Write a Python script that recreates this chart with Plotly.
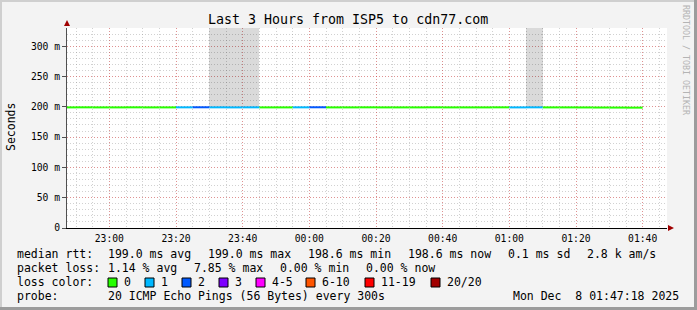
import plotly.graph_objects as go
import pandas as pd

# ---------------- data ----------------
bin_start = ["22:45", "22:50", "22:55", "23:00", "23:05", "23:10", "23:15",
             "23:20", "23:25", "23:30", "23:35", "23:40", "23:45", "23:50",
             "23:55", "00:00", "00:05", "00:10", "00:15", "00:20", "00:25",
             "00:30", "00:35", "00:40", "00:45", "00:50", "00:55", "01:00",
             "01:05", "01:10", "01:15", "01:20", "01:25", "01:30", "01:35"]
median_rtt_ms = [199.0, 199.1, 199.0, 199.0, 199.1, 199.0, 199.0,
                 199.1, 199.2, 199.1, 199.0, 199.1, 199.0, 199.0,
                 199.1, 199.2, 199.0, 199.0, 199.1, 199.0, 199.0,
                 199.0, 199.1, 199.0, 199.0, 199.0, 199.1, 199.0,
                 199.1, 199.0, 199.0, 198.9, 198.8, 198.7, 198.6]
loss_count = [0, 0, 0, 0, 0, 0, 0,
              1, 2, 1, 1, 1, 0, 0,
              1, 2, 0, 0, 0, 0, 0,
              0, 0, 0, 0, 0, 0, 1,
              1, 0, 0, 0, 0, 0, 0]
smoke_max_ms = [None, None, None, None, None, None, None,
                None, None, 400, 400, 400, None, None,
                None, None, None, None, None, None, None,
                None, None, None, None, None, None, None,
                400, None, None, None, None, None, None]

loss_levels = ["0", "1", "2", "3", "4-5", "6-10", "11-19", "20/20"]
loss_colors = ["#26ff00", "#00b8ff", "#0059ff", "#7e00ff",
               "#ff00ff", "#ff5500", "#ff0000", "#a10000"]

y_tick_vals_ms = [0, 50, 100, 150, 200, 250, 300]
y_tick_text = ["0", "50 m", "100 m", "150 m", "200 m", "250 m", "300 m"]
x_tick_text = ["23:00", "23:20", "23:40", "00:00", "00:20", "00:40",
               "01:00", "01:20", "01:40"]

title = "Last 3 Hours from ISP5 to cdn77.com"
rtt_stats = ["199.0 ms avg", "199.0 ms max", "198.6 ms min",
             "198.6 ms now", "0.1 ms sd", "2.8 k am/s"]
loss_stats = ["1.14 % avg", "7.85 % max", "0.00 % min", "0.00 % now"]
probe_text = "20 ICMP Echo Pings (56 Bytes) every 300s"
date_text = "Mon Dec  8 01:47:18 2025"
range_start = "2025-12-07 22:47:18"
range_end = "2025-12-08 01:47:18"

# ---------------- helpers ----------------
W, H = 697, 310
L, R, T, B = 67, 667, 28, 228
FONT = "DejaVu Sans Mono"


def px(x):
    return (x - L) / (R - L)


def py(y):
    return (B - y) / (B - T)


def to_ts(hm):
    h, m = map(int, hm.split(":"))
    day = "2025-12-07" if h >= 12 else "2025-12-08"
    return pd.Timestamp(f"{day} {hm}:00")


starts = [to_ts(s) for s in bin_start]
step = pd.Timedelta(minutes=5)


def level_index(n):
    if n <= 3:
        return n
    if n <= 5:
        return 4
    if n <= 10:
        return 5
    if n <= 19:
        return 6
    return 7


fig = go.Figure()

# smoke
sx, sy, sb = [], [], []
for t, m, s in zip(starts, median_rtt_ms, smoke_max_ms):
    if s is not None:
        sx.append(t + step / 2)
        sy.append((s - m) / 1000)
        sb.append(m / 1000)
fig.add_trace(go.Bar(x=sx, y=sy, base=sb, width=300000,
                     marker=dict(color="rgba(0,0,0,0.145)", line=dict(width=0)),
                     hoverinfo="skip", showlegend=False))

# median line coloured by loss
segs = {}
for t, m, n in zip(starts, median_rtt_ms, loss_count):
    k = level_index(n)
    xs, ys = segs.setdefault(k, ([], []))
    xs += [t, t + step, None]
    ys += [m / 1000, m / 1000, None]
for k, (xs, ys) in segs.items():
    fig.add_trace(go.Scatter(x=xs, y=ys, mode="lines",
                             line=dict(color=loss_colors[k], width=2),
                             hoverinfo="skip", showlegend=False))

x_tick_vals = [to_ts(s) for s in x_tick_text]

MAJOR = "rgba(255,0,0,0.3)"
MINOR = "rgba(140,140,140,0.4)"

fig.update_layout(
    width=W, height=H,
    margin=dict(l=L, r=W - R, t=T, b=H - B, pad=0),
    paper_bgcolor="#f3f3f3", plot_bgcolor="#ffffff",
    showlegend=False, bargap=0,
    font=dict(family=FONT, color="#000000", size=10),
    xaxis=dict(type="date", range=[range_start, range_end],
               tickmode="array", tickvals=x_tick_vals, ticktext=x_tick_text,
               showgrid=True, gridcolor=MAJOR, griddash="1px,2px",
               gridwidth=1, zeroline=False,
               showline=True, linecolor="#000000", linewidth=1,
               ticks="", ticklabelstandoff=1,
               tickfont=dict(family=FONT, size=9.7, color="#000000"),
               minor=dict(tickmode="linear", tick0="2025-12-07 22:45:00", dtick=300000,
                          showgrid=True, gridcolor=MINOR,
                          griddash="1px,2px", gridwidth=1, ticks="")),
    yaxis=dict(range=[0, 0.33], tickmode="array",
               tickvals=[v / 1000 for v in y_tick_vals_ms], ticktext=y_tick_text,
               showgrid=True, gridcolor=MAJOR, griddash="1px,2px",
               gridwidth=1, zeroline=False,
               showline=True, linecolor="#505050", linewidth=1,
               ticks="outside", ticklen=4, tickcolor="#505050",
               tickfont=dict(family=FONT, size=9.7, color="#000000"),
               minor=dict(tickmode="linear", tick0=0, dtick=0.01,
                          showgrid=True, gridcolor=MINOR,
                          griddash="1px,2px", gridwidth=1, ticks="")),
)

shapes = []
ann = []


def text(x, y, s, size=11.5, anchor="left", color="#000000", angle=0):
    ann.append(dict(x=px(x), y=py(y), xref="paper", yref="paper", text=s,
                    showarrow=False, xanchor=anchor, yanchor="middle",
                    textangle=angle, borderpad=0,
                    font=dict(family=FONT, size=size, color=color)))


# arrows
shapes.append(dict(type="path", xref="paper", yref="paper",
                   path=f"M {px(64)} {py(26)} L {px(70)} {py(26)} L {px(67)} {py(20)} Z",
                   fillcolor="#a00000", line=dict(width=0)))
shapes.append(dict(type="path", xref="paper", yref="paper",
                   path=f"M {px(668)} {py(225)} L {px(668)} {py(231)} L {px(674)} {py(228)} Z",
                   fillcolor="#a00000", line=dict(width=0)))

# frame (3D border)
shapes.append(dict(type="rect", xref="paper", yref="paper", x0=px(0), x1=px(2), y0=py(310), y1=py(0),
                   fillcolor="#cfcfcf", line=dict(width=0)))
shapes.append(dict(type="rect", xref="paper", yref="paper", x0=px(0), x1=px(697), y0=py(2), y1=py(0),
                   fillcolor="#cfcfcf", line=dict(width=0)))
shapes.append(dict(type="rect", xref="paper", yref="paper", x0=px(694), x1=px(697), y0=py(310), y1=py(0),
                   fillcolor="#9c9c9c", line=dict(width=0)))
shapes.append(dict(type="rect", xref="paper", yref="paper", x0=px(0), x1=px(697), y0=py(310), y1=py(307),
                   fillcolor="#9c9c9c", line=dict(width=0)))

# title, axis title, watermark
text(347.5, 19, title, size=13.3, anchor="center")
text(11, 127, "Seconds", size=11.5, anchor="center", angle=-90)
text(686, 60, "RRDTOOL / TOBI OETIKER", size=8.3, anchor="center", color="#b4b4b4", angle=90)

# legend rows
text(16, 254, "median rtt:")
for x, s in zip([107, 207, 307, 407, 507, 586], rtt_stats):
    text(x, 254, s)
text(16, 268, "packet loss:")
for x, s in zip([107, 193, 279, 365], loss_stats):
    text(x, 268, s)
text(16, 282, "loss color:")
for x, s, c in zip([108, 145, 182, 219, 256, 306, 365, 431], loss_levels, loss_colors):
    shapes.append(dict(type="rect", xref="paper", yref="paper",
                       x0=px(x), x1=px(x + 9), y0=py(287), y1=py(278),
                       fillcolor=c, line=dict(color="#000000", width=1)))
    text(x + 15, 282, s)
text(16, 296, "probe:")
text(107, 296, probe_text)
text(680, 296, date_text, anchor="right")

fig.update_layout(shapes=shapes, annotations=ann)
fig.write_html("out.html")
